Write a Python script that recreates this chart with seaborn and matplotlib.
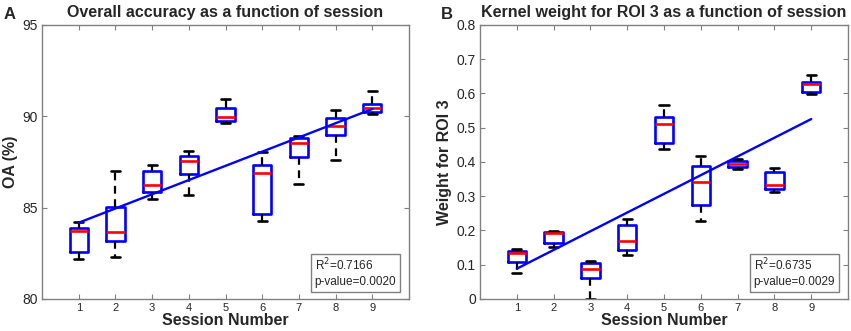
import numpy as np
import pandas as pd
import matplotlib
matplotlib.use('Agg')
import matplotlib.pyplot as plt
import seaborn as sns

sessions = [1, 2, 3, 4, 5, 6, 7, 8, 9]

# panel A: overall accuracy (%), five-number summaries per session
oa_low = [82.19, 82.30, 85.49, 85.69, 89.65, 84.25, 86.30, 87.59, 90.15]
oa_q1 = [82.55, 83.18, 85.88, 86.84, 89.73, 84.64, 87.79, 88.98, 90.26]
oa_med = [83.72, 83.65, 86.26, 87.55, 89.96, 86.90, 88.56, 89.47, 90.47]
oa_q3 = [83.87, 85.05, 86.99, 87.85, 90.46, 87.34, 88.81, 89.91, 90.69]
oa_high = [84.23, 87.03, 87.32, 88.10, 90.97, 88.05, 88.92, 90.33, 91.39]
oa_fit = (83.40, 0.778)  # intercept, slope
oa_stats = 'R$^2$=0.7166\np-value=0.0020'

# panel B: kernel weight for ROI 3
w_low = [0.077, 0.152, 0.000, 0.127, 0.438, 0.227, 0.379, 0.312, 0.599]
w_q1 = [0.109, 0.163, 0.061, 0.143, 0.456, 0.274, 0.384, 0.322, 0.603]
w_med = [0.135, 0.193, 0.087, 0.170, 0.511, 0.341, 0.394, 0.334, 0.627]
w_q3 = [0.141, 0.195, 0.105, 0.215, 0.531, 0.388, 0.404, 0.372, 0.634]
w_high = [0.146, 0.1995, 0.111, 0.233, 0.567, 0.4165, 0.409, 0.383, 0.653]
w_fit = (0.034, 0.0546)
w_stats = 'R$^2$=0.6735\np-value=0.0029'


def make_df(lo, q1, med, q3, hi):
    vals = np.column_stack([lo, q1, med, q3, hi]).ravel()
    return pd.DataFrame({'session': np.repeat(sessions, 5), 'value': vals})


sns.set_style('ticks')
plt.rcParams['font.family'] = ['Liberation Sans', 'DejaVu Sans']

fig = plt.figure(figsize=(8.51, 3.31), dpi=100)
axA = fig.add_axes([0.0494, 0.0967, 0.4312, 0.8278])
axB = fig.add_axes([0.5641, 0.0967, 0.4324, 0.8278])


def draw(ax, df, fit, stats, ylim, yticks, ylabel, title):
    sns.boxplot(data=df, x='session', y='value', native_scale=True, width=0.5,
                fill=False, whis=(0, 100), showfliers=False, color='#0000ff',
                linewidth=1.9,
                medianprops=dict(color='#ff0000', linewidth=1.9),
                whiskerprops=dict(color='black', linestyle=(0, (3.5, 2.5)), linewidth=1.6),
                capprops=dict(color='black', linewidth=1.9),
                ax=ax)
    fx = np.array([sessions[0], sessions[-1]])
    sns.lineplot(x=fx, y=fit[0] + fit[1] * fx, color='#0000ff', linewidth=1.7, ax=ax, zorder=5)
    ax.set_xlim(0, 10)
    ax.set_ylim(*ylim)
    ax.set_xticks(sessions)
    ax.set_xticklabels([str(s) for s in sessions], fontsize=8)
    ax.set_yticks(yticks)
    ax.tick_params(axis='y', labelsize=10)
    ax.tick_params(direction='in', length=3.5, top=True, right=True, color='#808080', pad=3)
    for sp in ax.spines.values():
        sp.set_color('#808080')
        sp.set_linewidth(1.0)
        sp.set_visible(True)
    ax.set_xlabel('Session Number', fontsize=11.5, fontweight='bold', labelpad=0)
    ax.set_ylabel(ylabel, fontsize=11.5, fontweight='bold', labelpad=3)
    ax.set_title(title, fontsize=11.5, fontweight='bold', pad=6)
    ax.text(0.965, 0.04, stats, transform=ax.transAxes, ha='right', va='bottom',
            multialignment='left', fontsize=8.5, linespacing=1.25,
            bbox=dict(boxstyle='square,pad=0.3', facecolor='white', edgecolor='#808080', linewidth=1))


draw(axA, make_df(oa_low, oa_q1, oa_med, oa_q3, oa_high), oa_fit, oa_stats,
     (80, 95), [80, 85, 90, 95], 'OA (%)', 'Overall accuracy as a function of session')
draw(axB, make_df(w_low, w_q1, w_med, w_q3, w_high), w_fit, w_stats,
     (0, 0.8), [0, 0.1, 0.2, 0.3, 0.4, 0.5, 0.6, 0.7, 0.8], 'Weight for ROI 3',
     'Kernel weight for ROI 3 as a function of session')
axB.set_yticklabels(['0' if v == 0 else f'{v:.1f}' for v in axB.get_yticks()])

fig.text(0.004, 0.955, 'A', fontsize=12, fontweight='bold', va='center')
fig.text(0.518, 0.955, 'B', fontsize=12, fontweight='bold', va='center')

fig.savefig('out.png', dpi=100)
